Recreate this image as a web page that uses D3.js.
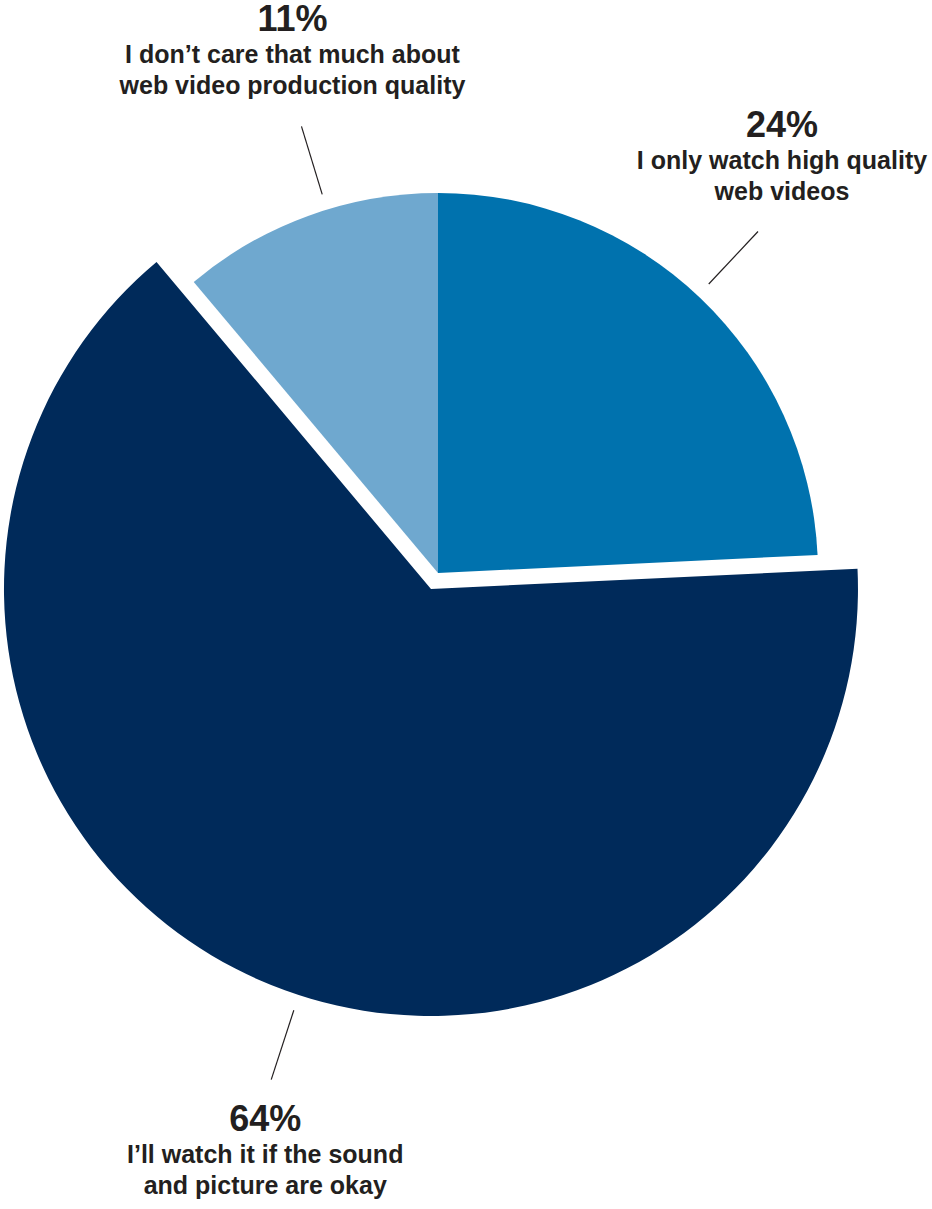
<!DOCTYPE html>
<html>
<head>
<meta charset="utf-8">
<title>web video quality pie</title>
<script src="https://d3js.org/d3.v7.min.js"></script>
<style>
    body { margin: 0; background: #fff; }
    .pct { font-family: "Liberation Sans", Arial, sans-serif; font-weight: bold; font-size: 36px; fill: #231f20; }
    .lbl { font-family: "Liberation Sans", Arial, sans-serif; font-weight: bold; font-size: 25px; fill: #231f20; }
</style>
</head>
<body>
<svg class="chart"></svg>
<script>
    // data
    var categories = ["I only watch high quality web videos", "I'll watch it if the sound and picture are okay", "I don\u2019t care that much about web video production quality"];
    var values = [24, 64, 11];
    var pctLabels = ["24%", "64%", "11%"];
    var labelLines = [
        ["I only watch high quality", "web videos"],
        ["I\u2019ll watch it if the sound", "and picture are okay"],
        ["I don\u2019t care that much about", "web video production quality"]
    ];
    var colors = ["#0072ae", "#002a5a", "#6fa8cf"];

    var width = 932, height = 1209;
    var cx = 438, cy = 573;
    var radius = 380;

    // the big slice is pulled out and drawn larger
    var explode = [0, 17.5, 0];
    var bigR = [radius, 427, radius];
    // leader lines: angle tweak (deg) and length, label text position relative to leader end
    var leader = [
        { da: -0.5, len: 72, dx: 24, dy: -94 },
        { da: -5.6, len: 73, dx: -6, dy: 51 },
        { da: 3.0,  len: 71, dx: -9, dy: -95 }
    ];

    var svg = d3.select(".chart")
        .attr("width", width)
        .attr("height", height);

    var g = svg.append("g")
        .attr("transform", "translate(" + cx + "," + cy + ")");

    var pie = d3.pie().sort(null).value(function(d) { return d; });
    var arcs = pie(values);

    function polar(a, r) {
        return [Math.sin(a) * r, -Math.cos(a) * r];
    }

    function leadAngle(d, i) {
        return (d.startAngle + d.endAngle) / 2 + leader[i].da * Math.PI / 180;
    }

    var slices = g.selectAll(".slice")
        .data(arcs)
        .enter()
        .append("g")
        .attr("class", "slice")
        .attr("transform", function(d, i) {
            var mid = (d.startAngle + d.endAngle) / 2;
            var p = polar(mid, explode[i]);
            return "translate(" + p[0] + "," + p[1] + ")";
        });

    slices.append("path")
        .attr("d", function(d, i) {
            return d3.arc().innerRadius(0).outerRadius(bigR[i])(d);
        })
        .attr("fill", function(d, i) { return colors[i]; });

    // leader lines
    slices.append("line")
        .attr("x1", function(d, i) { return polar(leadAngle(d, i), bigR[i] + 16)[0]; })
        .attr("y1", function(d, i) { return polar(leadAngle(d, i), bigR[i] + 16)[1]; })
        .attr("x2", function(d, i) { return polar(leadAngle(d, i), bigR[i] + 16 + leader[i].len)[0]; })
        .attr("y2", function(d, i) { return polar(leadAngle(d, i), bigR[i] + 16 + leader[i].len)[1]; })
        .attr("stroke", "#231f20")
        .attr("stroke-width", 1.2);

    // labels
    var labels = slices.append("g")
        .attr("transform", function(d, i) {
            var p = polar(leadAngle(d, i), bigR[i] + 16 + leader[i].len);
            return "translate(" + (p[0] + leader[i].dx) + "," + (p[1] + leader[i].dy) + ")";
        })
        .attr("text-anchor", "middle");

    labels.append("text")
        .attr("class", "pct")
        .attr("y", 0)
        .text(function(d, i) { return pctLabels[i]; });

    labels.each(function(d, i) {
        d3.select(this).selectAll(".lbl")
            .data(labelLines[i])
            .enter()
            .append("text")
            .attr("class", "lbl")
            .attr("y", function(t, j) { return 32 + j * 31; })
            .text(function(t) { return t; });
    });
</script>
</body>
</html>
